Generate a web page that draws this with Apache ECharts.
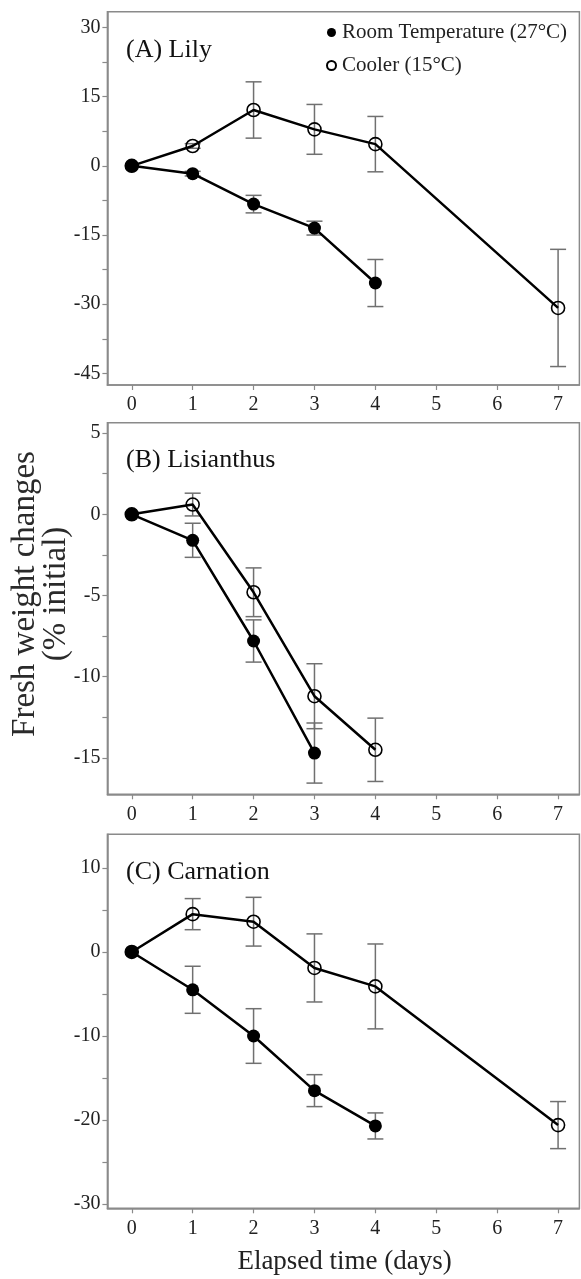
<!DOCTYPE html>
<html>
<head>
<meta charset="utf-8">
<script src="https://cdn.jsdelivr.net/npm/echarts@6/dist/echarts.min.js"></script>
<style>
  html, body { margin: 0; padding: 0; background: #fff; }
  #chart { width: 581px; height: 1279px; }
</style>
</head>
<body>
<div id="chart"></div>
<script>
// panel A - Lily
const lilyRoomDays = [0, 1, 2, 3, 4];
const lilyRoomMean = [0, -1.7, -8.3, -13.5, -25.4];
const lilyRoomSe = [0, 0.5, 1.9, 1.5, 5.1];
const lilyCoolDays = [0, 1, 2, 3, 4, 7];
const lilyCoolMean = [0, 4.3, 12.1, 7.9, 4.7, -30.8];
const lilyCoolSe = [0, 0.5, 6.1, 5.4, 6.0, 12.7];

// panel B - Lisianthus
const lisRoomDays = [0, 1, 2, 3];
const lisRoomMean = [0, -1.6, -7.8, -14.7];
const lisRoomSe = [0, 1.05, 1.3, 1.85];
const lisCoolDays = [0, 1, 2, 3, 4];
const lisCoolMean = [0, 0.6, -4.8, -11.2, -14.5];
const lisCoolSe = [0, 0.7, 1.5, 2.0, 1.95];

// panel C - Carnation
const carRoomDays = [0, 1, 2, 3, 4];
const carRoomMean = [0, -4.5, -10.0, -16.5, -20.7];
const carRoomSe = [0, 2.8, 3.25, 1.9, 1.55];
const carCoolDays = [0, 1, 2, 3, 4, 7];
const carCoolMean = [0, 4.5, 3.6, -1.9, -4.1, -20.6];
const carCoolSe = [0, 1.85, 2.9, 4.05, 5.05, 2.8];

const xTicks = [0, 1, 2, 3, 4, 5, 6, 7];
const lilyYLabels = [-45, -30, -15, 0, 15, 30];
const lilyYTicks = [-45, -37.5, -30, -22.5, -15, -7.5, 0, 7.5, 15, 22.5, 30];
const lisYLabels = [-15, -10, -5, 0, 5];
const lisYTicks = [-15, -12.5, -10, -7.5, -5, -2.5, 0, 2.5, 5];
const carYLabels = [-30, -20, -10, 0, 10];
const carYTicks = [-30, -25, -20, -15, -10, -5, 0, 5, 10];

const roomName = "Room Temperature (27°C)";
const coolName = "Cooler (15°C)";

const serif = "'Liberation Serif', 'Times New Roman', 'DejaVu Serif', serif";
const axisGray = "#8a8a8a";
const barGray = "#707070";

const panels = [
  { top: 11.7, height: 373.3, yMin: -47.5, yMax: 33.4, labels: lilyYLabels, ticks: lilyYTicks,
    room: [lilyRoomDays, lilyRoomMean, lilyRoomSe], cool: [lilyCoolDays, lilyCoolMean, lilyCoolSe] },
  { top: 422.7, height: 371.6, yMin: -17.24, yMax: 5.64, labels: lisYLabels, ticks: lisYTicks,
    room: [lisRoomDays, lisRoomMean, lisRoomSe], cool: [lisCoolDays, lisCoolMean, lisCoolSe] },
  { top: 834.3, height: 374, yMin: -30.5, yMax: 14, labels: carYLabels, ticks: carYTicks,
    room: [carRoomDays, carRoomMean, carRoomSe], cool: [carCoolDays, carCoolMean, carCoolSe] },
];

function errorRender(params, api) {
  const x = api.value(0);
  const hi = api.coord([x, api.value(2)]);
  const lo = api.coord([x, api.value(1)]);
  const w = 8;
  const style = { stroke: barGray, lineWidth: 1.5 };
  return {
    type: "group",
    children: [
      { type: "line", shape: { x1: hi[0], y1: hi[1], x2: lo[0], y2: lo[1] }, style },
      { type: "line", shape: { x1: hi[0] - w, y1: hi[1], x2: hi[0] + w, y2: hi[1] }, style },
      { type: "line", shape: { x1: lo[0] - w, y1: lo[1], x2: lo[0] + w, y2: lo[1] }, style },
    ],
  };
}

const grid = [], xAxis = [], yAxis = [], series = [];

panels.forEach((p, i) => {
  grid.push({
    left: 107.4, right: 1.6, top: p.top, height: p.height,
    show: true, borderColor: axisGray, borderWidth: 1.5, backgroundColor: "transparent",
  });
  xAxis.push({
    type: "value", gridIndex: i, min: -0.4, max: 7.35,
    splitLine: { show: false },
    axisLine: { show: true, onZero: false, lineStyle: { color: axisGray, width: 1.5 } },
    axisTick: { show: true, length: 5, customValues: xTicks, lineStyle: { color: axisGray, width: 1.2 } },
    axisLabel: { customValues: xTicks, margin: 10, color: "#222", fontFamily: serif, fontSize: 20 },
  });
  yAxis.push({
    type: "value", gridIndex: i, min: p.yMin, max: p.yMax,
    splitLine: { show: false },
    axisLine: { show: true, onZero: false, lineStyle: { color: axisGray, width: 1.5 } },
    axisTick: { show: true, length: 5, customValues: p.ticks, lineStyle: { color: axisGray, width: 1.2 } },
    axisLabel: { customValues: p.labels, margin: 7, color: "#222", fontFamily: serif, fontSize: 20 },
  });

  const bars = [];
  [p.room, p.cool].forEach(([days, mean, se]) => {
    days.forEach((d, k) => {
      if (se[k] > 0) bars.push([d, mean[k] - se[k], mean[k] + se[k]]);
    });
  });
  series.push({
    type: "custom", xAxisIndex: i, yAxisIndex: i, z: 1, silent: true,
    renderItem: errorRender, encode: { x: 0, y: [1, 2] }, data: bars,
  });
  series.push({
    name: coolName, type: "line", xAxisIndex: i, yAxisIndex: i, z: 3,
    data: p.cool[0].map((d, k) => [d, p.cool[1][k]]),
    symbol: "circle", symbolSize: 13,
    lineStyle: { color: "#000", width: 2.5 },
    itemStyle: { color: "rgba(255,255,255,0)", borderColor: "#000", borderWidth: 1.6 },
  });
  series.push({
    name: roomName, type: "line", xAxisIndex: i, yAxisIndex: i, z: 4,
    data: p.room[0].map((d, k) => [d, p.room[1][k]]),
    symbol: "circle", symbolSize: 13,
    lineStyle: { color: "#000", width: 2.5 },
    itemStyle: { color: "#000", borderColor: "#000", borderWidth: 0 },
  });
});

const chart = echarts.init(document.getElementById("chart"), null, { renderer: "canvas" });

chart.setOption({
  animation: false,
  backgroundColor: "#fff",
  grid, xAxis, yAxis, series,
  legend: {
    data: [roomName, coolName],
    orient: "vertical", left: 326, top: 22, padding: 0,
    icon: "circle", itemWidth: 9, itemHeight: 9, itemGap: 12,
    textStyle: { fontFamily: serif, fontSize: 21, color: "#222", lineHeight: 20, padding: [0, 0, 0, 1] },
  },
  graphic: [
    { type: "text", left: 126, top: 37, style: { text: "(A) Lily", font: "26px " + serif, fill: "#111" } },
    { type: "text", left: 126, top: 447, style: { text: "(B) Lisianthus", font: "26px " + serif, fill: "#111" } },
    { type: "text", left: 126, top: 859, style: { text: "(C) Carnation", font: "26px " + serif, fill: "#111" } },
    {
      type: "text", x: 41, y: 594, rotation: Math.PI / 2,
      style: { text: "Fresh weight changes\n(% initial)", font: "33px " + serif, fill: "#2a2a2a",
        align: "center", verticalAlign: "middle", lineHeight: 31 },
    },
    {
      type: "text", x: 344.6, y: 1262,
      style: { text: "Elapsed time (days)", font: "27px " + serif, fill: "#222",
        align: "center", verticalAlign: "middle" },
    },
  ],
});
</script>
</body>
</html>
